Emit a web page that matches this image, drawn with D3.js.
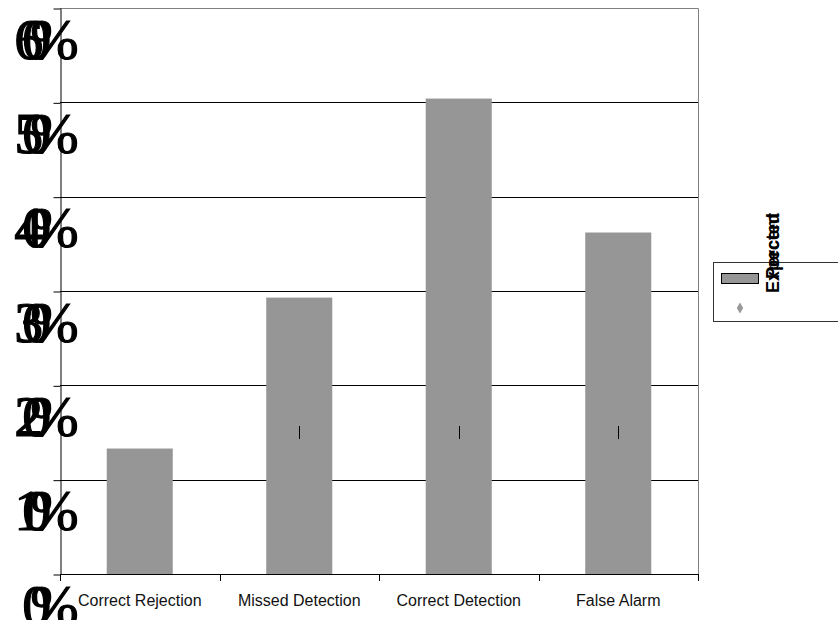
<!DOCTYPE html>
<html><head><meta charset="utf-8">
<script src="https://cdn.jsdelivr.net/npm/d3@7"></script>
<style>body{margin:0;background:#fff}</style>
</head><body><svg id="chart" width="838" height="620"></svg>
<script>
// Outcome categories and the two series
const categories = ["Correct Rejection", "Missed Detection", "Correct Detection", "False Alarm"];
const percentValues = [0.133, 0.293, 0.504, 0.362];
const expectedValues = [null, 0.15, 0.15, 0.15];
const yTicks = [0, 0.1, 0.2, 0.3, 0.4, 0.5, 0.6];
const seriesNames = ["Percent", "Expected"];

const svg = d3.select("#chart");
const plot = {left: 60, right: 698, top: 8, bottom: 574};
const barColor = "#969696";

const x = d3.scaleBand().domain(categories)
  .range([plot.left, plot.right]).paddingInner(0.586).paddingOuter(0.293);
const y = d3.scaleLinear().domain([0, 0.6]).range([plot.bottom, plot.top]);
const crisp = v => Math.round(v) + 0.5;

// horizontal gridlines
svg.append("g").selectAll("line")
  .data(yTicks.filter(t => t > 0 && t < 0.6)).join("line")
  .attr("x1", plot.left).attr("x2", plot.right)
  .attr("y1", d => crisp(y(d))).attr("y2", d => crisp(y(d)))
  .attr("stroke", "#000");

// plot area border (top and right)
svg.append("path")
  .attr("d", `M${plot.left},${crisp(plot.top)}H${crisp(plot.right)}V${plot.bottom}`)
  .attr("fill", "none").attr("stroke", "#808080");

// bars
svg.append("g").selectAll("rect").data(categories).join("rect")
  .attr("x", d => x(d)).attr("width", x.bandwidth())
  .attr("y", (d, i) => y(percentValues[i]))
  .attr("height", (d, i) => y(0) - y(percentValues[i]))
  .attr("fill", barColor);

// expected markers
svg.append("g").selectAll("line")
  .data(categories.map((c, i) => ({c, v: expectedValues[i]})).filter(d => d.v != null))
  .join("line")
  .attr("x1", d => crisp(x(d.c) + x.bandwidth() / 2))
  .attr("x2", d => crisp(x(d.c) + x.bandwidth() / 2))
  .attr("y1", d => y(d.v) - 6.5).attr("y2", d => y(d.v) + 6.5)
  .attr("stroke", "#000");

// y axis
const yAxis = svg.append("g").attr("transform", `translate(${crisp(plot.left)},0)`)
  .call(d3.axisLeft(y).tickValues(yTicks).tickSize(7).tickSizeOuter(0).tickPadding(-4)
    .tickFormat(d3.format(".0%")));
yAxis.selectAll("path,line").attr("stroke", "#000");
yAxis.selectAll(".tick line").attr("transform", "translate(0,0.5)");
yAxis.selectAll("text")
  .attr("dy", 50)
  .attr("fill", "#000")
  .attr("stroke", "#000")
  .attr("stroke-width", 1.2)
  .style("font-family", "'Liberation Serif', 'Times New Roman', serif")
  .style("font-size", "58px")
  .style("letter-spacing", "-21px");

// x axis line with ticks at category boundaries
const step = x.step();
const bounds = categories.map(c => x(c) - step * x.paddingInner() / 2).concat([plot.right]);
svg.append("line").attr("x1", plot.left).attr("x2", plot.right)
  .attr("y1", crisp(plot.bottom)).attr("y2", crisp(plot.bottom)).attr("stroke", "#000");
svg.append("g").selectAll("line").data(bounds).join("line")
  .attr("x1", d => crisp(d)).attr("x2", d => crisp(d))
  .attr("y1", plot.bottom).attr("y2", plot.bottom + 7).attr("stroke", "#000");

const xAxis = svg.append("g").attr("transform", `translate(0,${plot.bottom})`)
  .call(d3.axisBottom(x).tickSize(0).tickPadding(0));
xAxis.select(".domain").remove();
xAxis.selectAll("text")
  .attr("y", 0).attr("dy", 32)
  .attr("fill", "#111")
  .style("font-family", "'Liberation Sans', Arial, sans-serif")
  .style("font-size", "16px");

// legend
const legend = svg.append("g");
legend.append("rect").attr("x", 713.5).attr("y", 262.5).attr("width", 140).attr("height", 59)
  .attr("fill", "#fff").attr("stroke", "#333");
legend.append("rect").attr("x", 721.5).attr("y", 273.5).attr("width", 37).attr("height", 10)
  .attr("fill", barColor).attr("stroke", "#000");
legend.append("path").attr("d", d3.symbol(d3.symbolDiamond).size(36)())
  .attr("transform", "translate(740,308)").attr("fill", "#999");
legend.selectAll("text.name").data(seriesNames).join("text")
  .attr("class", "name")
  .attr("transform", (d, i) => `translate(779,${i === 0 ? 279 : 293}) rotate(-90)`)
  .attr("fill", "#000")
  .style("font-family", "'Liberation Sans', Arial, sans-serif")
  .style("font-size", "18px").style("font-weight", "bold")
  .text(d => d);
</script>
</body></html>
